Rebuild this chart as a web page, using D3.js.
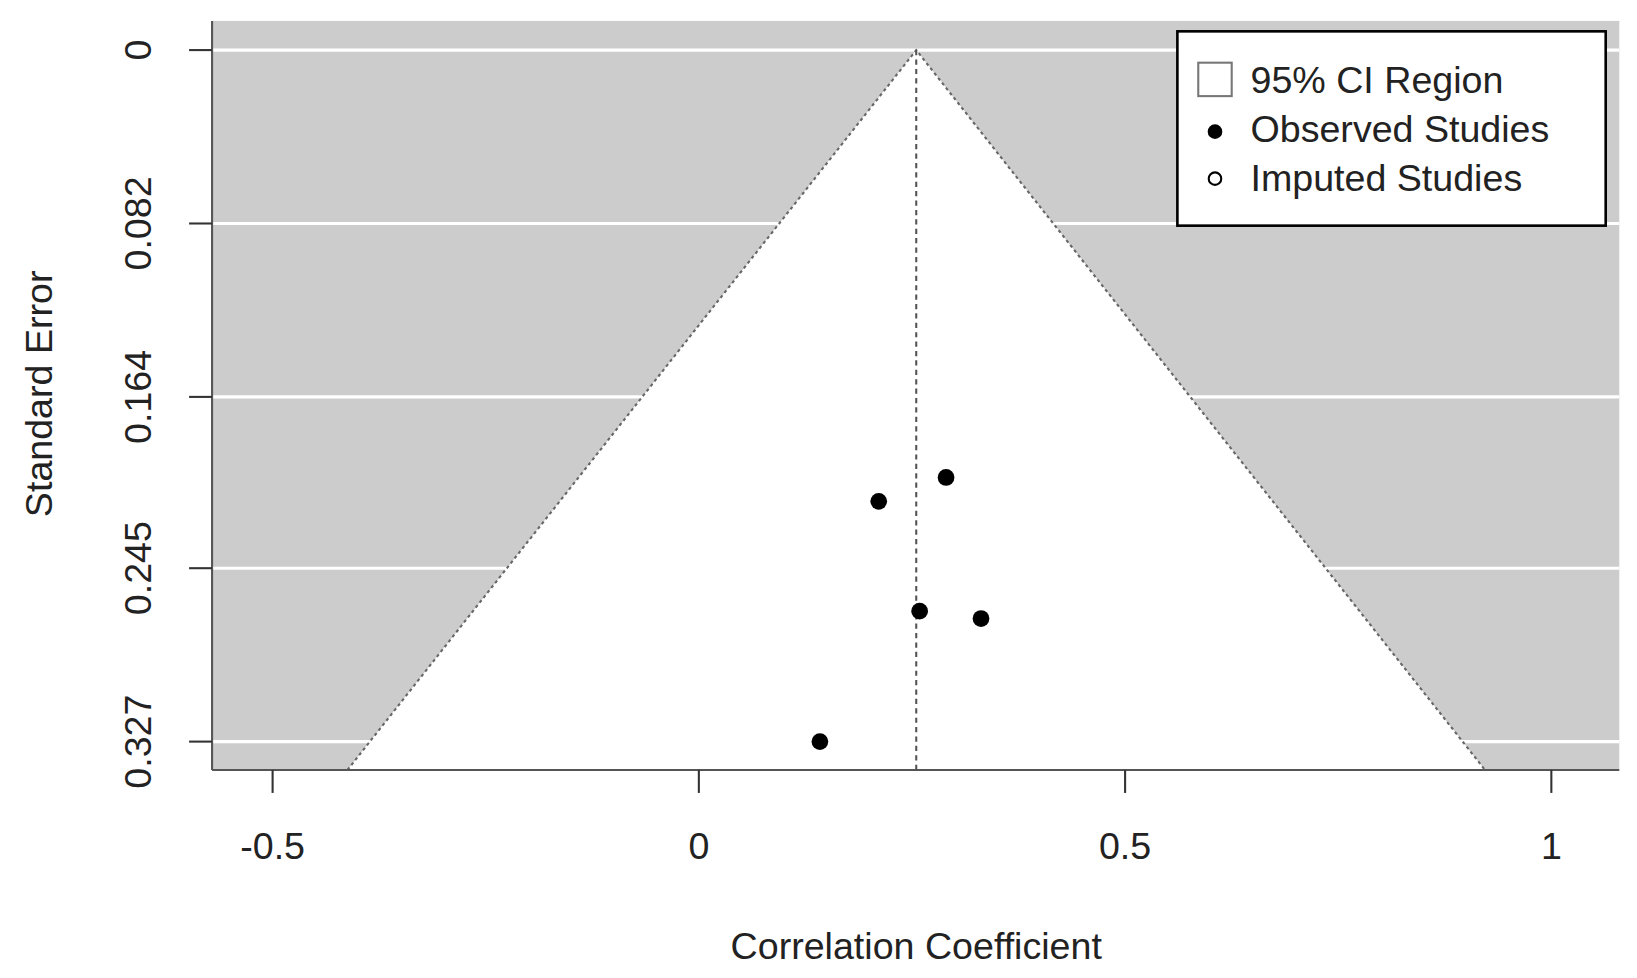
<!DOCTYPE html>
<html><head><meta charset="utf-8">
<script src="https://cdn.jsdelivr.net/npm/d3@7"></script>
<style>body{margin:0;background:#fff}text{font-family:"Liberation Sans",Arial,sans-serif;fill:#222}</style>
</head><body><svg id="c" width="1637" height="978"></svg>
<script>
// funnel plot data
var pooled = 0.255;
var studyR = [0.211, 0.290, 0.259, 0.331, 0.142];
var studySE = [0.2134, 0.2021, 0.2653, 0.2688, 0.327];
var xTicks = [-0.5, 0, 0.5, 1];
var xTickLabels = ["-0.5", "0", "0.5", "1"];
var yTicks = [0, 0.082, 0.164, 0.245, 0.327];
var legendLabels = ["95% CI Region", "Observed Studies", "Imputed Studies"];

var svg = d3.select("#c").append("g").attr("transform", "scale(1.0447)");
var L = 203, R = 1550, T = 20, B = 737;
var x = d3.scaleLinear().domain([-0.571, 1.0797]).range([L, R]);
var y = d3.scaleLinear().domain([-0.0138, 0.3404]).range([T, B]);

svg.append("rect").attr("x", L).attr("y", T).attr("width", R - L).attr("height", B - T).attr("fill", "#cccccc");
yTicks.forEach(function(t) {
  svg.append("line").attr("x1", L).attr("x2", R).attr("y1", y(t)).attr("y2", y(t)).attr("stroke", "#fff").attr("stroke-width", 3);
});
var seMax = 0.3404;
var tri = [[pooled - 1.96 * seMax, seMax], [pooled, 0], [pooled + 1.96 * seMax, seMax]];
var line = d3.line().x(function(d){return x(d[0]);}).y(function(d){return y(d[1]);});
svg.append("path").attr("d", line(tri) + "Z").attr("fill", "#fff");
svg.append("path").attr("d", line(tri))
  .attr("fill", "none").attr("stroke", "#666").attr("stroke-width", 2).attr("stroke-dasharray", "3,3");
svg.append("line").attr("x1", x(pooled)).attr("x2", x(pooled)).attr("y1", y(0)).attr("y2", B)
  .attr("stroke", "#555").attr("stroke-width", 2).attr("stroke-dasharray", "5,4");

svg.selectAll("circle.s").data(studyR).enter().append("circle")
  .attr("cx", function(d){return x(d);}).attr("cy", function(d, i){return y(studySE[i]);})
  .attr("r", 8).attr("fill", "#000");

// axes lines
svg.append("line").attr("x1", L).attr("x2", L).attr("y1", T).attr("y2", B).attr("stroke", "#555").attr("stroke-width", 2);
svg.append("line").attr("x1", L).attr("x2", R).attr("y1", B).attr("y2", B).attr("stroke", "#555").attr("stroke-width", 2);

xTicks.forEach(function(t, i) {
  svg.append("line").attr("x1", x(t)).attr("x2", x(t)).attr("y1", B).attr("y2", B + 22).attr("stroke", "#333").attr("stroke-width", 2);
  svg.append("text").attr("x", x(t)).attr("y", 822).attr("text-anchor", "middle").attr("font-size", 36).text(xTickLabels[i]);
});
yTicks.forEach(function(t) {
  svg.append("line").attr("x1", L - 22).attr("x2", L).attr("y1", y(t)).attr("y2", y(t)).attr("stroke", "#333").attr("stroke-width", 2);
  svg.append("text").attr("transform", "translate(145," + y(t) + ") rotate(-90)").attr("text-anchor", "middle").attr("font-size", 36).text(t);
});
svg.append("text").attr("x", x(pooled)).attr("y", 918).attr("text-anchor", "middle").attr("font-size", 36).text("Correlation Coefficient");
svg.append("text").attr("transform", "translate(50,377) rotate(-90)").attr("text-anchor", "middle").attr("font-size", 36).text("Standard Error");

// legend
var lg = svg.append("g").attr("transform", "translate(1127,30)");
lg.append("rect").attr("width", 410).attr("height", 186).attr("fill", "#fff").attr("stroke", "#000").attr("stroke-width", 2.5);
lg.append("rect").attr("x", 20).attr("y", 30).attr("width", 32).attr("height", 32).attr("fill", "#fff").attr("stroke", "#777").attr("stroke-width", 2);
lg.append("circle").attr("cx", 36).attr("cy", 96).attr("r", 7).attr("fill", "#000");
lg.append("circle").attr("cx", 36).attr("cy", 141).attr("r", 6).attr("fill", "#fff").attr("stroke", "#000").attr("stroke-width", 2);
legendLabels.forEach(function(s, i) {
  lg.append("text").attr("x", 70).attr("y", 59 + i * 47).attr("font-size", 36).text(s);
});
</script></body></html>
